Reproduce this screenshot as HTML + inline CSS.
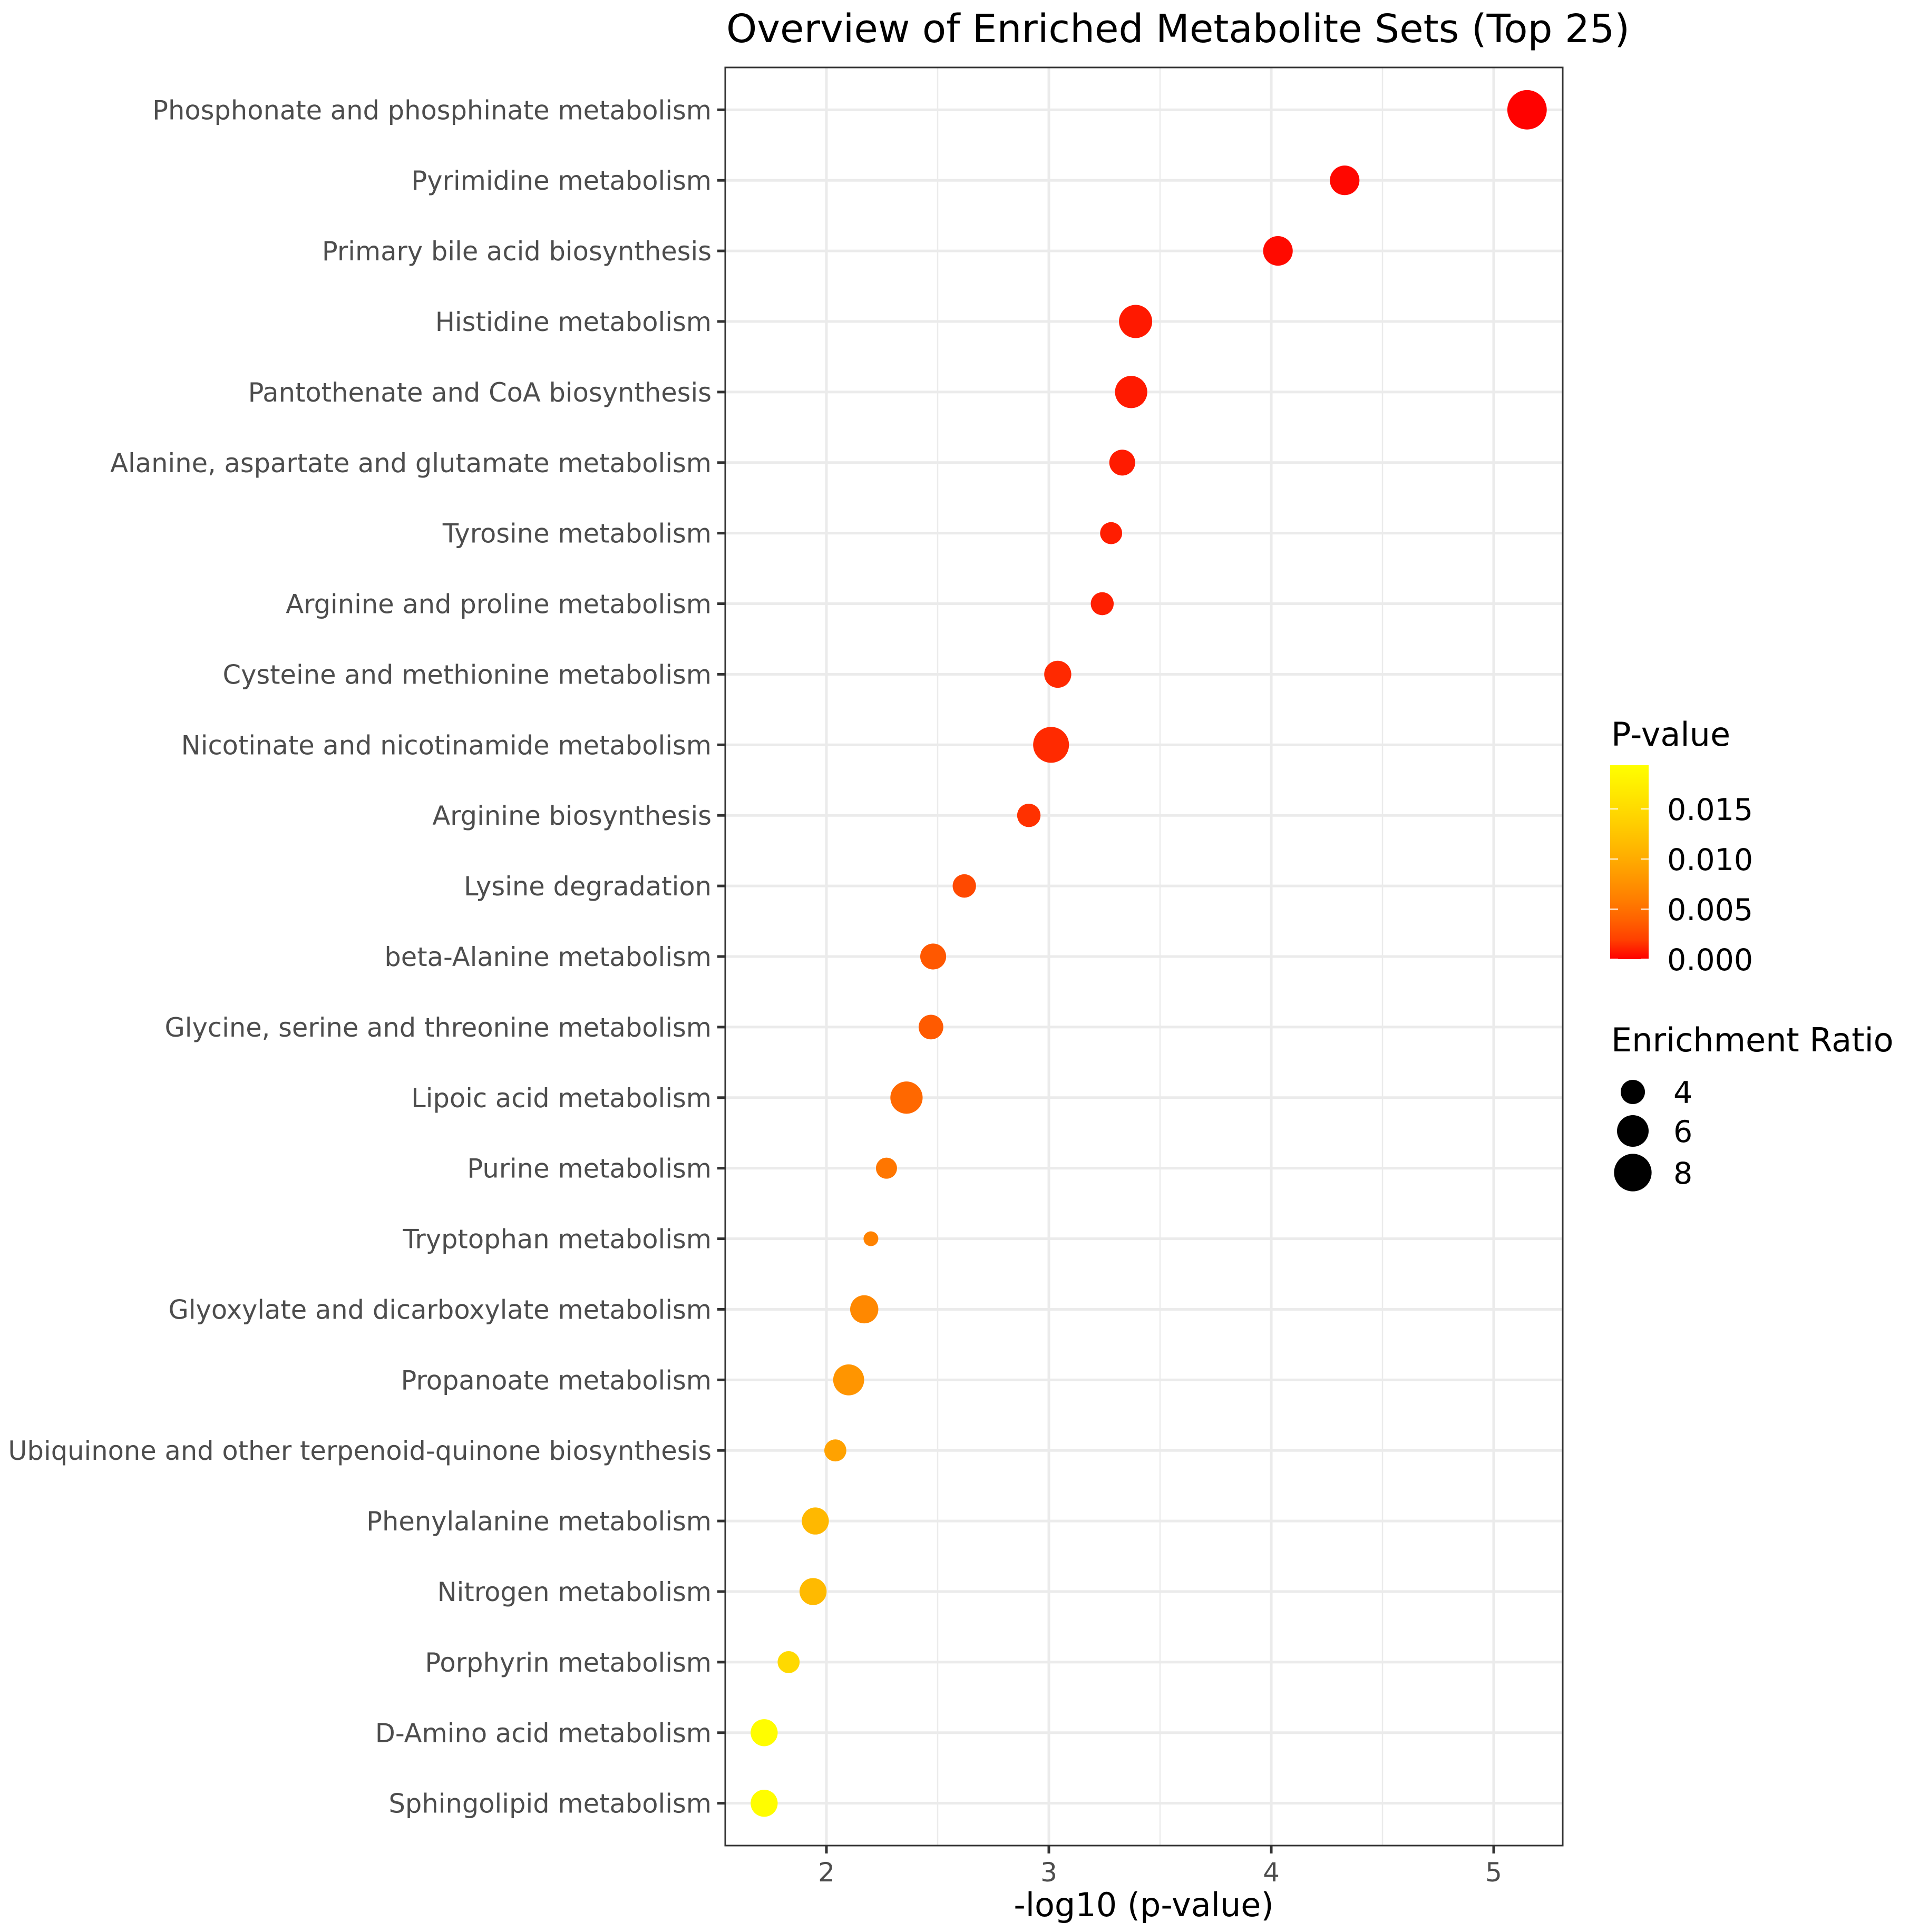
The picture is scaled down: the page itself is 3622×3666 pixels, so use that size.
<!DOCTYPE html>
<html><head><meta charset="utf-8"><style>
html,body{margin:0;padding:0;background:#fff;}
svg{display:block;font-family:"DejaVu Sans","Liberation Sans",sans-serif;}
</style></head><body>
<svg id="chart" width="3622" height="3666" viewBox="0 0 3622 3666" xmlns="http://www.w3.org/2000/svg">
<text x="1378" y="80" font-size="74" fill="#000">Overview of Enriched Metabolite Sets (Top 25)</text>
<g id="grid"></g>
<g id="dots"></g>
<rect x="1376" y="128" width="1589" height="3374" fill="none" stroke="#333" stroke-width="3"/>
<g id="axes"></g>
<text x="2170" y="3636" font-size="62" text-anchor="middle" fill="#000">-log10 (p-value)</text>
<g id="legend"></g>
</svg>
<script>
const categories = ["Phosphonate and phosphinate metabolism","Pyrimidine metabolism","Primary bile acid biosynthesis","Histidine metabolism","Pantothenate and CoA biosynthesis","Alanine, aspartate and glutamate metabolism","Tyrosine metabolism","Arginine and proline metabolism","Cysteine and methionine metabolism","Nicotinate and nicotinamide metabolism","Arginine biosynthesis","Lysine degradation","beta-Alanine metabolism","Glycine, serine and threonine metabolism","Lipoic acid metabolism","Purine metabolism","Tryptophan metabolism","Glyoxylate and dicarboxylate metabolism","Propanoate metabolism","Ubiquinone and other terpenoid-quinone biosynthesis","Phenylalanine metabolism","Nitrogen metabolism","Porphyrin metabolism","D-Amino acid metabolism","Sphingolipid metabolism"];
const negLogP = [5.15,4.33,4.03,3.39,3.37,3.33,3.28,3.24,3.04,3.01,2.91,2.62,2.48,2.47,2.36,2.27,2.20,2.17,2.10,2.04,1.95,1.94,1.83,1.72,1.72];
const enrichment = [8.7,5.4,5.4,6.5,6.2,4.4,3.5,3.7,4.7,7.4,3.8,3.8,4.4,4.1,6.2,3.3,2.2,5.0,5.8,3.5,4.7,4.7,3.5,4.7,4.7];
const xTicks = [2,3,4,5];
const xMinor = [2.5,3.5,4.5];
const colorTicks = [0,0.005,0.010,0.015];
const colorTickLabels = ["0.000","0.005","0.010","0.015"];
const sizeLegend = [4,6,8];

const NS="http://www.w3.org/2000/svg";
const L=1376,R=2965,T=128,B=3502;
const xs=v=>1568+(v-2)*422;
const rowH=(B-T)/(categories.length-1+1.2);
const ys=i=>T+0.6*rowH+i*rowH;
const rs=v=>Math.sqrt(Math.max(40,900+185*(v-6)));
const pMax=0.01937;
function col(p){const t=Math.min(1,Math.max(0,p/pMax));return `rgb(255,${Math.round(255*Math.pow(t,0.6))},0)`;}
function mk(tag,attrs,parent){const e=document.createElementNS(NS,tag);for(const k in attrs)e.setAttribute(k,attrs[k]);parent.appendChild(e);return e;}
const grid=document.getElementById('grid'),dots=document.getElementById('dots'),axes=document.getElementById('axes'),leg=document.getElementById('legend');

xMinor.forEach(v=>{const l=mk('line',{x1:xs(v),x2:xs(v),y1:T,y2:B,stroke:'#ebebeb','stroke-width':2.5},grid);

});
xTicks.forEach(v=>{const l=mk('line',{x1:xs(v),x2:xs(v),y1:T,y2:B,stroke:'#ebebeb','stroke-width':5},grid);


const tk=mk('line',{x1:xs(v),x2:xs(v),y1:B,y2:B+15,stroke:'#333','stroke-width':5},axes);


const tx=mk('text',{x:xs(v),y:B+68,'font-size':50,'text-anchor':'middle',fill:'#4d4d4d'},axes);tx.textContent=String(v);

});
categories.forEach((c,i)=>{const y=ys(i);
const g=mk('line',{x1:L,x2:R,y1:y,y2:y,stroke:'#ebebeb','stroke-width':5},grid);


const tk=mk('line',{x1:L-15,x2:L,y1:y,y2:y,stroke:'#333','stroke-width':5},axes);


const tx=mk('text',{x:L-26,y:y+18,'font-size':49.5,'text-anchor':'end',fill:'#4d4d4d'},axes);tx.textContent=c;


const d=mk('circle',{cx:xs(negLogP[i]),cy:y,r:rs(enrichment[i]),fill:col(Math.pow(10,-negLogP[i]))},dots);

});

const lt=mk('text',{x:3057,y:1415,'font-size':62,fill:'#000'},leg);lt.textContent='P-value';


const defs=mk('defs',{},leg);const gr=mk('linearGradient',{id:'pg',x1:0,y1:1,x2:0,y2:0},defs);
[0,0.1,0.2,0.3,0.4,0.5,0.6,0.7,0.8,0.9,1].forEach(o=>mk('stop',{offset:o,'stop-color':col(o*pMax)},gr));
const cbT=1452,cbB=1820,cy=p=>cbB-(p/pMax)*(cbB-cbT);
const bar=mk('rect',{x:3055,y:cbT,width:73,height:cbB-cbT,fill:'url(#pg)'},leg);


colorTicks.forEach((p,i)=>{const y=cy(p);
mk('line',{x1:3055,x2:3070,y1:y,y2:y,stroke:'#fff','stroke-width':2},leg);
mk('line',{x1:3113,x2:3128,y1:y,y2:y,stroke:'#fff','stroke-width':2},leg);
const t=mk('text',{x:3163,y:y+21,'font-size':57,fill:'#000'},leg);t.textContent=colorTickLabels[i];

});
const st=mk('text',{x:3057,y:1995,'font-size':62,fill:'#000'},leg);st.textContent='Enrichment Ratio';


const sy=[2072,2146,2225];
sizeLegend.forEach((v,i)=>{const c=mk('circle',{cx:3098,cy:sy[i],r:rs(v),fill:'#000'},leg);


const t=mk('text',{x:3175,y:sy[i]+21,'font-size':57,fill:'#000'},leg);t.textContent=String(v);

});
</script>
</body></html>
